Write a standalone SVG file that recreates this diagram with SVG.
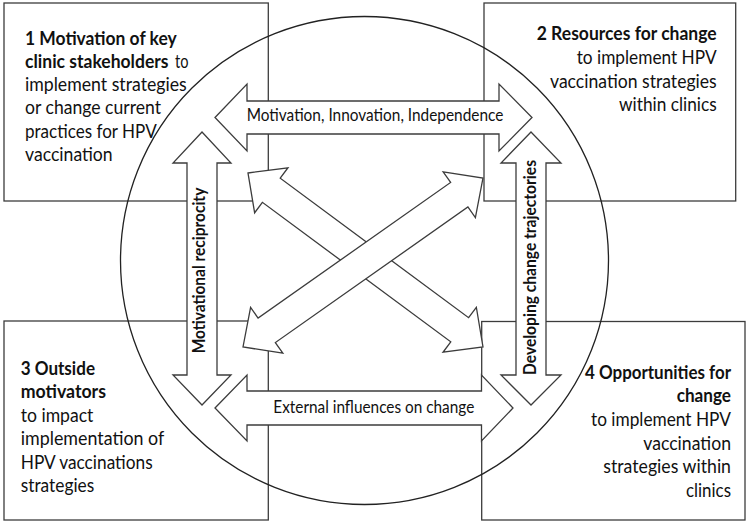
<svg xmlns="http://www.w3.org/2000/svg" width="749" height="524" viewBox="0 0 749 524">
<style>
.box{fill:#fff;stroke:#3c3c3c;stroke-width:1.3}
.ring{fill:none;stroke:#222;stroke-width:1.3}
.arr{fill:#fff;stroke:#3c3c3c;stroke-width:1.3;stroke-linejoin:miter}
.t{font-family:Lato,"Open Sans","Liberation Sans",sans-serif;font-size:18.5px;fill:#111}
.b{font-weight:bold}
.lbl{font-family:Lato,"Open Sans","Liberation Sans",sans-serif;font-size:16.5px;fill:#111}
</style>
<rect width="749" height="524" fill="#fff"/>
<g id="node-1">
<rect class="box" x="4" y="3" width="264.3" height="198"/>
<text class="t b" x="25" y="45" textLength="151.7" lengthAdjust="spacingAndGlyphs">1 Motivation of key</text>
<text class="t b" x="25" y="68" textLength="143.5" lengthAdjust="spacingAndGlyphs">clinic stakeholders</text>
<text class="t" x="175" y="68" textLength="13.5" lengthAdjust="spacingAndGlyphs">to</text>
<text class="t" x="25" y="91" textLength="161.7" lengthAdjust="spacingAndGlyphs">implement strategies</text>
<text class="t" x="25" y="114" textLength="136" lengthAdjust="spacingAndGlyphs">or change current</text>
<text class="t" x="25" y="137.5" textLength="131.7" lengthAdjust="spacingAndGlyphs">practices for HPV</text>
<text class="t" x="25" y="161" textLength="87.7" lengthAdjust="spacingAndGlyphs">vaccination</text>
</g>
<g id="node-2">
<rect class="box" x="484" y="3" width="251.7" height="198"/>
<text class="t b" x="536.7" y="40" textLength="180" lengthAdjust="spacingAndGlyphs">2 Resources for change</text>
<text class="t" x="576.7" y="64" textLength="140" lengthAdjust="spacingAndGlyphs">to implement HPV</text>
<text class="t" x="550" y="87.5" textLength="166.7" lengthAdjust="spacingAndGlyphs">vaccination strategies</text>
<text class="t" x="619" y="111" textLength="97.7" lengthAdjust="spacingAndGlyphs">within clinics</text>
</g>
<g id="node-3">
<rect class="box" x="4" y="321" width="264.3" height="199"/>
<text class="t b" x="20.7" y="375" textLength="74.3" lengthAdjust="spacingAndGlyphs">3 Outside</text>
<text class="t b" x="20.7" y="398.3" textLength="85.3" lengthAdjust="spacingAndGlyphs">motivators</text>
<text class="t" x="20.7" y="421.7" textLength="72.7" lengthAdjust="spacingAndGlyphs">to impact</text>
<text class="t" x="20.7" y="445.3" textLength="143.6" lengthAdjust="spacingAndGlyphs">implementation of</text>
<text class="t" x="20.7" y="468.8" textLength="132" lengthAdjust="spacingAndGlyphs">HPV vaccinations</text>
<text class="t" x="20.7" y="492.3" textLength="73.6" lengthAdjust="spacingAndGlyphs">strategies</text>
</g>
<g id="node-4">
<rect class="box" x="481.7" y="321.5" width="263.3" height="198.5"/>
<text class="t b" x="585" y="379.3" textLength="146" lengthAdjust="spacingAndGlyphs">4 Opportunities for</text>
<text class="t b" x="676.7" y="402" textLength="54.3" lengthAdjust="spacingAndGlyphs">change</text>
<text class="t" x="591" y="426.3" textLength="140" lengthAdjust="spacingAndGlyphs">to implement HPV</text>
<text class="t" x="643.3" y="449.5" textLength="87.7" lengthAdjust="spacingAndGlyphs">vaccination</text>
<text class="t" x="603.3" y="473" textLength="127.7" lengthAdjust="spacingAndGlyphs">strategies within</text>
<text class="t" x="686" y="496.5" textLength="45" lengthAdjust="spacingAndGlyphs">clinics</text>
</g>
<g id="ring">
<circle class="ring" cx="364.5" cy="260.5" r="244"/>
</g>
<g id="connectors">
<polygon class="arr" points="215,117.5 247,84 247,101 499,101 499,84 532,117.5 499,151 499,134 247,134 247,151"/>
<polygon class="arr" points="215,408 247,375 247,391 481.5,391 481.5,375 513,408 481.5,441 481.5,425 247,425 247,441"/>
<polygon class="arr" points="202,132 231,163 217,163 217,375 231,375 202,405 173,375 187,375 187,163 173,163"/>
<polygon class="arr" points="531,132 561,163 546,163 546,375 561,375 531,405 501,375 516,375 516,163 501,163"/>
<polygon class="arr" transform="translate(248,173) rotate(36.52)" points="0,0 29,-28 29,-15 263.4,-15 263.4,-28 292.4,0 263.4,28 263.4,15 29,15 29,28"/>
<polygon class="arr" transform="translate(243,347) rotate(-35.15)" points="0,0 29,-28 29,-15 264.5,-15 264.5,-28 293.5,0 264.5,28 264.5,15 29,15 29,28"/>
<text class="lbl" x="246.7" y="121" textLength="256.7" lengthAdjust="spacingAndGlyphs">Motivation, Innovation, Independence</text>
<text class="lbl" x="273.3" y="413.3" textLength="201" lengthAdjust="spacingAndGlyphs">External influences on change</text>
<text class="lbl b" x="205.5" y="353.3" transform="rotate(-90 205.5 353.3)" textLength="165.6" lengthAdjust="spacingAndGlyphs">Motivational reciprocity</text>
<text class="lbl b" x="536" y="375" transform="rotate(-90 536 375)" textLength="215" lengthAdjust="spacingAndGlyphs">Developing change trajectories</text>
</g>
</svg>
